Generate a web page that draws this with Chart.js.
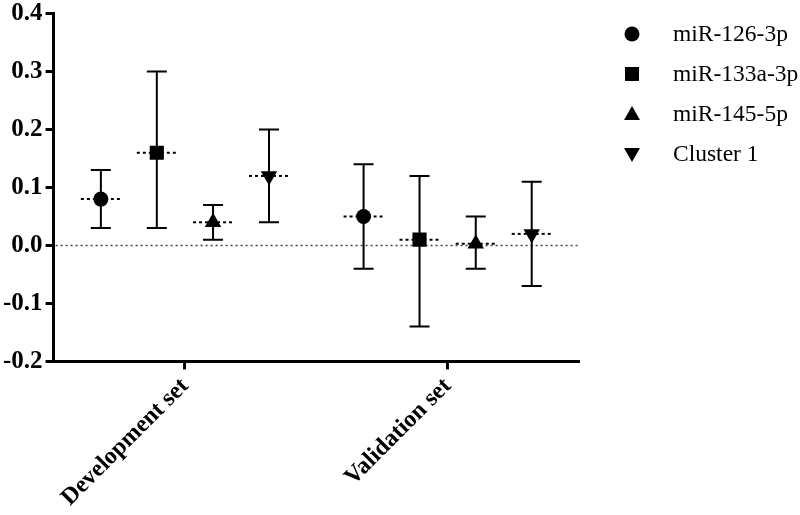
<!DOCTYPE html>
<html>
<head>
<meta charset="utf-8">
<script src="https://cdn.jsdelivr.net/npm/chart.js@4.4.1/dist/chart.umd.min.js"></script>
<style>
  html, body { margin: 0; padding: 0; background: #fff; }
  #wrap { width: 800px; height: 515px; position: relative; }
</style>
</head>
<body>
<div id="wrap"><canvas id="c"></canvas></div>
<script>
// ---- Data ----
const categories = ['Development set', 'Validation set'];
const seriesNames = ['miR-126-3p', 'miR-133a-3p', 'miR-145-5p', 'Cluster 1'];
const meanValues = [
  [0.08, 0.05],   // miR-126-3p
  [0.16, 0.01],   // miR-133a-3p
  [0.04, 0.003],  // miR-145-5p
  [0.12, 0.02]    // Cluster 1
];
const upperValues = [
  [0.13, 0.14],
  [0.30, 0.12],
  [0.07, 0.05],
  [0.20, 0.11]
];
const lowerValues = [
  [0.03, -0.04],
  [0.03, -0.14],
  [0.01, -0.04],
  [0.04, -0.07]
];
const seriesOffsets = [-0.32, -0.107, 0.107, 0.32];
const yTicks = [-0.2, -0.1, 0.0, 0.1, 0.2, 0.3, 0.4];

const pointStyles = ['circle', 'rect', 'triangle', 'triangle'];
const pointRotations = [0, 0, 0, 180];
const pointRadii = [7.5, 10, 9.5, 9.5];

const datasets = seriesNames.map((name, s) => ({
  label: name,
  data: categories.map((c, i) => ({ x: i + seriesOffsets[s], y: meanValues[s][i] })),
  pointStyle: pointStyles[s],
  rotation: pointRotations[s],
  radius: pointRadii[s],
  hoverRadius: pointRadii[s],
  backgroundColor: '#000',
  borderColor: '#000',
  borderWidth: 0,
  showLine: false
}));

const errorPlugin = {
  id: 'errorBars',
  beforeDatasetsDraw(chart) {
    const ctx = chart.ctx;
    const xs = chart.scales.x, ys = chart.scales.y;
    const area = chart.chartArea;
    ctx.save();
    // zero reference line
    ctx.strokeStyle = '#444';
    ctx.lineWidth = 1.5;
    ctx.setLineDash([2, 3]);
    const y0 = ys.getPixelForValue(0);
    ctx.beginPath();
    ctx.moveTo(area.left + 2, y0);
    ctx.lineTo(area.right, y0);
    ctx.stroke();
    // error bars
    ctx.setLineDash([]);
    ctx.strokeStyle = '#000';
    ctx.lineWidth = 2;
    seriesNames.forEach((n, s) => {
      categories.forEach((c, i) => {
        const px = xs.getPixelForValue(i + seriesOffsets[s]);
        const pu = ys.getPixelForValue(upperValues[s][i]);
        const pl = ys.getPixelForValue(lowerValues[s][i]);
        ctx.beginPath();
        ctx.moveTo(px, pu); ctx.lineTo(px, pl);
        ctx.moveTo(px - 10, pu); ctx.lineTo(px + 10, pu);
        ctx.moveTo(px - 10, pl); ctx.lineTo(px + 10, pl);
        ctx.stroke();
      });
    });
    // mean dashed lines
    ctx.setLineDash([3, 3]);
    ctx.lineWidth = 2;
    seriesNames.forEach((n, s) => {
      categories.forEach((c, i) => {
        const px = xs.getPixelForValue(i + seriesOffsets[s]);
        const pm = ys.getPixelForValue(meanValues[s][i]);
        ctx.beginPath();
        ctx.moveTo(px - 20, pm); ctx.lineTo(px + 20, pm);
        ctx.stroke();
      });
    });
    ctx.restore();
  },
  afterDraw(chart) {
    const ctx = chart.ctx;
    ctx.save();
    const mx = 632, tx = 673;
    const rows = [34, 74, 114, 154];
    ctx.fillStyle = '#000';
    ctx.font = '23.5px "Liberation Serif", "Times New Roman", serif';
    ctx.textBaseline = 'middle';
    ctx.textAlign = 'left';
    seriesNames.forEach((name, s) => {
      const y = rows[s];
      ctx.beginPath();
      if (s === 0) {
        ctx.arc(mx, y, 7.5, 0, Math.PI * 2);
      } else if (s === 1) {
        ctx.rect(mx - 7, y - 7, 14, 14);
      } else if (s === 2) {
        ctx.moveTo(mx, y - 8); ctx.lineTo(mx + 8, y + 6); ctx.lineTo(mx - 8, y + 6); ctx.closePath();
      } else {
        ctx.moveTo(mx, y + 8); ctx.lineTo(mx + 8, y - 6); ctx.lineTo(mx - 8, y - 6); ctx.closePath();
      }
      ctx.fill();
      ctx.fillText(name, tx, y + 1);
    });
    ctx.restore();
  }
};

new Chart(document.getElementById('c'), {
  type: 'scatter',
  data: { datasets },
  options: {
    responsive: true,
    maintainAspectRatio: false,
    animation: false,
    layout: { padding: { top: 0, right: 221, left: 0, bottom: 0 } },
    plugins: { legend: { display: false }, tooltip: { enabled: false } },
    scales: {
      x: {
        type: 'linear',
        min: -0.5,
        max: 1.5,
        afterBuildTicks(scale) { scale.ticks = categories.map((c, i) => ({ value: i })); },
        ticks: {
          callback: (v) => categories[v],
          minRotation: 45,
          maxRotation: 45,
          color: '#000',
          padding: 3,
          font: { family: '"Liberation Serif", "Times New Roman", serif', size: 24, weight: 'bold' }
        },
        border: { display: true, color: '#000', width: 3 },
        grid: { drawOnChartArea: false, drawTicks: true, tickLength: 8, tickWidth: 3, tickColor: '#000', color: '#000' }
      },
      y: {
        min: -0.2,
        max: 0.4,
        afterBuildTicks(scale) { scale.ticks = yTicks.map(v => ({ value: v })); },
        ticks: {
          callback: (v) => Number(v).toFixed(1),
          color: '#000',
          padding: 3,
          font: { family: '"Liberation Serif", "Times New Roman", serif', size: 25, weight: 'bold', lineHeight: 0.85 }
        },
        border: { display: true, color: '#000', width: 3 },
        grid: { drawOnChartArea: false, drawTicks: true, tickLength: 8, tickWidth: 3, tickColor: '#000', color: '#000' }
      }
    }
  },
  plugins: [errorPlugin]
});
</script>
</body>
</html>
